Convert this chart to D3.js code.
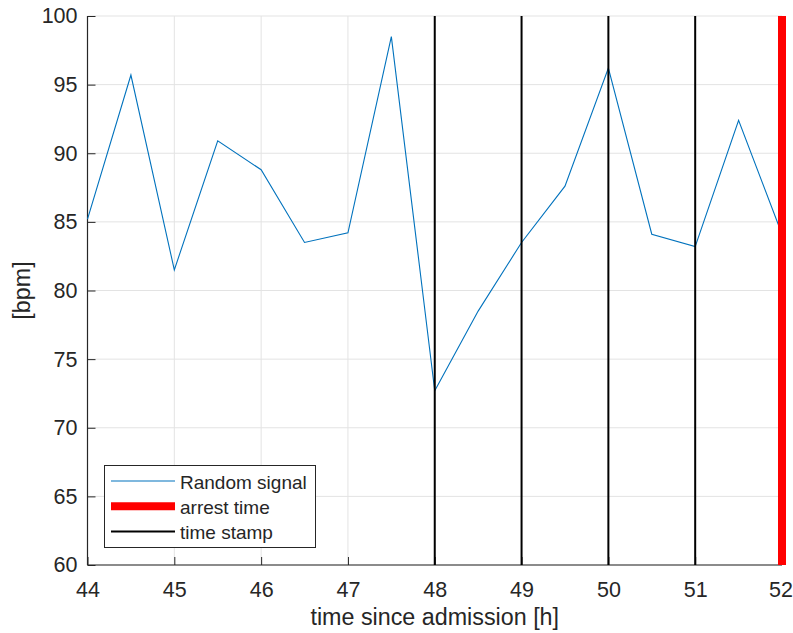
<!DOCTYPE html>
<html><head><meta charset="utf-8">
<script src="https://cdn.jsdelivr.net/npm/d3@7/dist/d3.min.js"></script>
<style>body{margin:0;background:#fff;} text{font-family:"Liberation Sans",Arial,sans-serif;fill:#262626;}</style>
</head><body>
<script>
const times = [44,44.5,45,45.5,46,46.5,47,47.5,48,48.5,49,49.5,50,50.5,51,51.5,52];
const bpm = [85.2,95.7,81.5,90.9,88.8,83.5,84.2,98.5,72.7,78.5,83.5,87.6,96.2,84.1,83.2,92.4,84.1];
const stampTimes = [48,49,50,51];
const arrestTime = [52];
const xTicks = [44,45,46,47,48,49,50,51,52];
const yTicks = [60,65,70,75,80,85,90,95,100];
const legendLabels = ["Random signal","arrest time","time stamp"];

const W=793,H=633;
const m={l:87.5,r:782,t:16,b:565};
const svg=d3.select("body").append("svg").attr("width",W).attr("height",H);
const x=d3.scaleLinear().domain([44,52]).range([m.l,m.r]);
const y=d3.scaleLinear().domain([60,100]).range([m.b,m.t]);

// grid
svg.append("g").selectAll("line").data(xTicks).join("line")
 .attr("x1",d=>x(d)).attr("x2",d=>x(d)).attr("y1",m.t).attr("y2",m.b)
 .attr("stroke","#e3e3e3").attr("stroke-width",1);
svg.append("g").selectAll("line").data(yTicks).join("line")
 .attr("x1",m.l).attr("x2",m.r).attr("y1",d=>y(d)).attr("y2",d=>y(d))
 .attr("stroke","#e3e3e3").attr("stroke-width",1);

// axes
const xAxis=svg.append("g").attr("transform",`translate(0,${m.b})`)
 .call(d3.axisBottom(x).tickValues(xTicks).tickSize(-8).tickPadding(17).tickFormat(d3.format("d")));
const yAxis=svg.append("g").attr("transform",`translate(${m.l},0)`)
 .call(d3.axisLeft(y).tickValues(yTicks).tickSize(-8).tickPadding(10).tickFormat(d3.format("d")));
[xAxis,yAxis].forEach(a=>{
  a.select(".domain").attr("stroke","#262626").attr("stroke-width",1.2);
  a.selectAll(".tick line").attr("stroke","#262626").attr("stroke-width",1);
  a.selectAll(".tick text").attr("font-size",21.5).attr("fill","#262626").style("font-family","Liberation Sans, Arial, sans-serif");
});
xAxis.selectAll(".tick text").filter(d=>d===52).attr("dx",-1.5);
xAxis.select(".domain").attr("d",`M${m.l},0H${m.r}`);
yAxis.select(".domain").attr("d",`M0,${m.b}V${m.t}`);

// data line
svg.append("path").datum(times.map((t,i)=>[t,bpm[i]]))
 .attr("d",d3.line().x(d=>x(d[0])).y(d=>y(d[1])))
 .attr("fill","none").attr("stroke","#0072BD").attr("stroke-width",1.1);

// arrest
svg.append("g").selectAll("line").data(arrestTime).join("line")
 .attr("x1",d=>x(d)).attr("x2",d=>x(d)).attr("y1",m.t).attr("y2",m.b)
 .attr("stroke","#ff0000").attr("stroke-width",8);
// stamps
svg.append("g").selectAll("line").data(stampTimes).join("line")
 .attr("x1",d=>x(d)).attr("x2",d=>x(d)).attr("y1",m.t).attr("y2",m.b)
 .attr("stroke","#000").attr("stroke-width",2);

// labels
svg.append("text").attr("x",(m.l+m.r)/2).attr("y",625).attr("text-anchor","middle")
 .attr("font-size",23.3).text("time since admission [h]");
svg.append("text").attr("transform",`translate(30,${(m.t+m.b)/2}) rotate(-90)`).attr("text-anchor","middle")
 .attr("font-size",23.3).text("[bpm]");

// legend
const lg=svg.append("g");
lg.append("rect").attr("x",104.5).attr("y",465.5).attr("width",211).attr("height",82)
 .attr("fill","#fff").attr("stroke","#262626").attr("stroke-width",1);
const styles=[{c:"#0072BD",w:1.1},{c:"#ff0000",w:8},{c:"#000",w:2}];
legendLabels.forEach((lab,i)=>{
  const cy=481+i*25.2;
  lg.append("line").attr("x1",111).attr("x2",175).attr("y1",cy).attr("y2",cy)
    .attr("stroke",styles[i].c).attr("stroke-width",styles[i].w);
  lg.append("text").attr("x",180).attr("y",cy+7.5).attr("font-size",19).text(lab);
});
</script>
</body></html>
